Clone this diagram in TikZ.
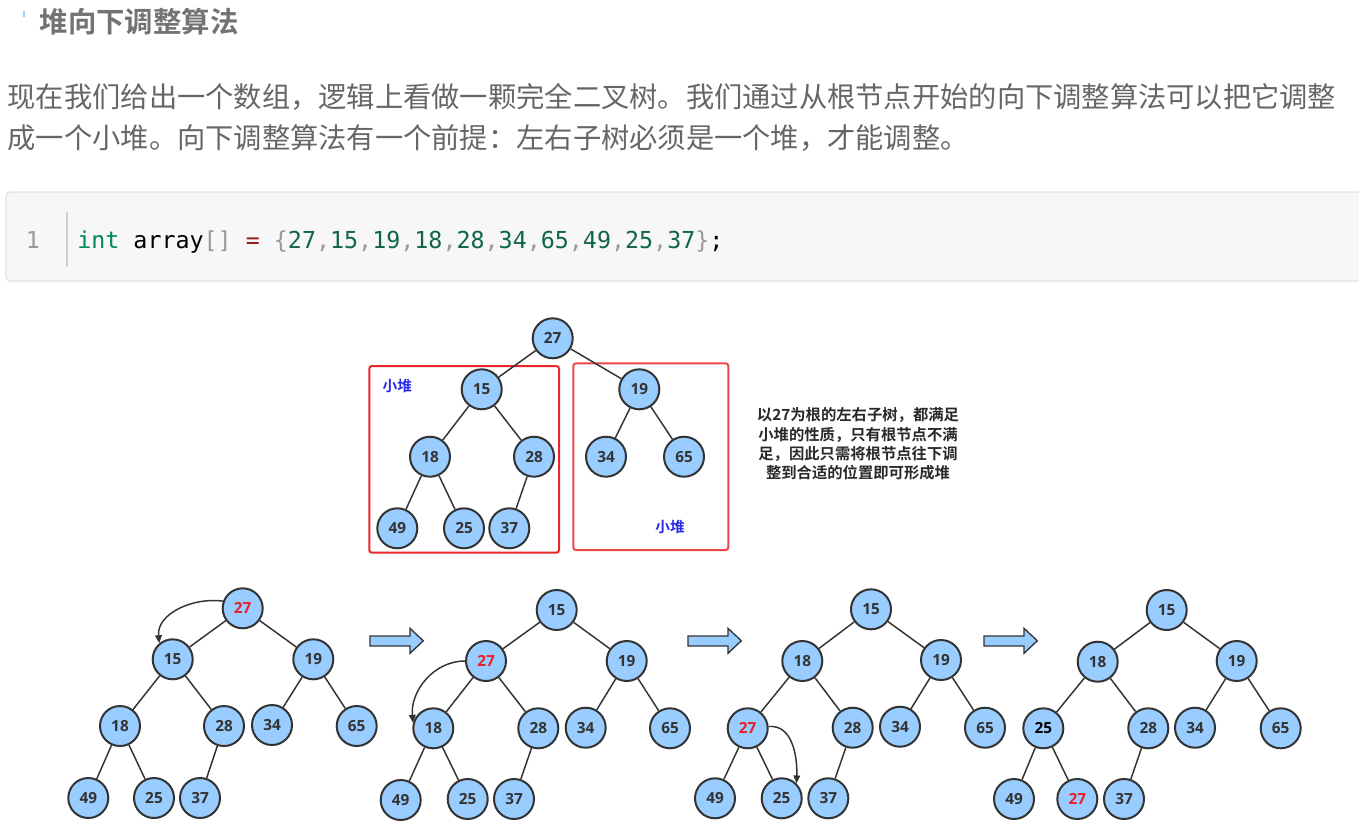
\documentclass[tikz,border=0pt]{standalone}
\usepackage{fontspec}
\setmainfont{Open Sans}
\setmonofont{DejaVu Sans Mono}
\newfontfamily\cjk{Noto Sans CJK SC}[BoldFont={Noto Sans CJK SC Bold}]
\usetikzlibrary{arrows.meta}

\definecolor{heapfill}{HTML}{99CCFF}
\definecolor{heapline}{HTML}{333333}
\definecolor{hotred}{HTML}{E8202A}
\definecolor{boxred}{HTML}{E8262B}
\definecolor{heapblue}{HTML}{2B2BEE}
\definecolor{textgray}{HTML}{666666}
\definecolor{titlegray}{HTML}{737373}
\definecolor{codebg}{HTML}{F7F7F7}
\definecolor{codeframe}{HTML}{E2E2E2}
\definecolor{kwgreen}{HTML}{008855}
\definecolor{numgreen}{HTML}{116644}
\definecolor{punct}{HTML}{999999}
\definecolor{opred}{HTML}{981A1A}

\newcommand{\hot}[1]{\textcolor{hotred}{#1}}
\newcommand{\cn}[1]{\textcolor{numgreen}{#1}}
\newcommand{\cc}{\textcolor{punct}{,}}

\tikzset{
  heapnode/.style={circle, draw=heapline, line width=1.5pt, fill=heapfill,
    minimum size=30pt, inner sep=0pt, text=heapline,
    font=\fontsize{11.5}{12}\selectfont\bfseries},
  treeline/.style={draw=heapline, line width=1.1pt},
  swaparrow/.style={draw=heapline, line width=1.1pt, -{Triangle[length=6pt,width=5pt]}},
  heapbox/.style={draw=boxred, line width=1.5pt, rounded corners=2pt},
  heaplabel/.style={text=heapblue, font=\cjk\bfseries\fontsize{11}{13}\selectfont},
  blockarrow/.style={draw=heapline, line width=1pt, fill=heapfill},
}

\begin{document}
\begin{tikzpicture}[x=0.75pt, y=-0.75pt]
  \clip (0,0) rectangle (1359,825);
  \fill[white] (0,0) rectangle (1359,825);

  % Heading and text.
  \draw[heapfill, line width=0.8pt] (24,11) -- (24,17);
  \node[anchor=west, text=titlegray, font=\cjk\bfseries\fontsize{21.3}{26}\selectfont]
    (title) at (35,22) {堆向下调整算法};
  \node[anchor=west, text=textgray, font=\cjk\fontsize{21.2}{28}\selectfont]
    (para1) at (3,97) {现在我们给出一个数组，逻辑上看做一颗完全二叉树。我们通过从根节点开始的向下调整算法可以把它调整};
  \node[anchor=west, text=textgray, font=\cjk\fontsize{21.2}{28}\selectfont]
    (para2) at (3,138) {成一个小堆。向下调整算法有一个前提：左右子树必须是一个堆，才能调整。};

  % Code block.
  \draw[fill=codebg, draw=codeframe, line width=1pt, rounded corners=3pt] (6,192) rectangle (1375,281);
  \draw[codeframe!80!gray, line width=1.5pt] (67,212) -- (67,267);
  \node[anchor=base, text=punct, font=\ttfamily\fontsize{17.5}{20}\selectfont] (lineno) at (33,248) {1};
  \node[anchor=base west, inner sep=0pt, font=\ttfamily\fontsize{17.5}{20}\selectfont] (code) at (77,248)
    {\textcolor{kwgreen}{int} array\textcolor{punct}{[]} \textcolor{opred}{=} \textcolor{punct}{\{}\cn{27}\cc\cn{15}\cc\cn{19}\cc\cn{18}\cc\cn{28}\cc\cn{34}\cc\cn{65}\cc\cn{49}\cc\cn{25}\cc\cn{37}\textcolor{punct}{\}};};

  % Starting tree with its two sub-heaps.
  \draw[heapbox] (369.3,366) rectangle (559,552.7);
  \draw[heapbox, draw=boxred!85] (573.3,363.3) rectangle (728.3,550);
  \node[heaplabel] (lblL) at (397.3,386) {小堆};
  \node[heaplabel] (lblR) at (670,526.7) {小堆};
  \node[heapnode] (t0r) at (552.7,338.3) {27};
  \node[heapnode] (t0a) at (481.7,389.3) {15};
  \node[heapnode] (t0b) at (639.3,389.3) {19};
  \node[heapnode] (t0c) at (430,456.7) {18};
  \node[heapnode] (t0d) at (534,456.7) {28};
  \node[heapnode] (t0e) at (606,456.7) {34};
  \node[heapnode] (t0f) at (684,456.7) {65};
  \node[heapnode] (t0g) at (397.3,528.3) {49};
  \node[heapnode] (t0h) at (464,528.3) {25};
  \node[heapnode] (t0i) at (509.3,528.3) {37};
  \node[align=center, text=heapline!80!black, font=\cjk\bfseries\fontsize{11.5}{14.6}\selectfont]
    (note) at (858,444) {以27为根的左右子树，都满足\\小堆的性质，只有根节点不满\\足，因此只需将根节点往下调\\整到合适的位置即可形成堆};

  % Step 1.
  \node[heapnode] (t1r) at (242.7,608.3) {\hot{27}};
  \node[heapnode] (t1a) at (172.7,659.3) {15};
  \node[heapnode] (t1b) at (313.3,659.3) {19};
  \node[heapnode] (t1c) at (120,726) {18};
  \node[heapnode] (t1d) at (224,726) {28};
  \node[heapnode] (t1e) at (272,725) {34};
  \node[heapnode] (t1f) at (356.7,726) {65};
  \node[heapnode] (t1g) at (88.3,798) {49};
  \node[heapnode] (t1h) at (154,798) {25};
  \node[heapnode] (t1i) at (200,798) {37};

  % Step 2.
  \node[heapnode] (t2r) at (556.7,610) {15};
  \node[heapnode] (t2a) at (486,661) {\hot{27}};
  \node[heapnode] (t2b) at (626.7,661) {19};
  \node[heapnode] (t2c) at (433.3,728.3) {18};
  \node[heapnode] (t2d) at (538.3,728.3) {28};
  \node[heapnode] (t2e) at (585.7,727.7) {34};
  \node[heapnode] (t2f) at (670,728.3) {65};
  \node[heapnode] (t2g) at (400.7,800) {49};
  \node[heapnode] (t2h) at (467.7,799) {25};
  \node[heapnode] (t2i) at (514,799) {37};

  % Step 3.
  \node[heapnode] (t3r) at (871,609.3) {15};
  \node[heapnode] (t3a) at (802.3,661) {18};
  \node[heapnode] (t3b) at (941,660) {19};
  \node[heapnode] (t3c) at (747.7,728.3) {\hot{27}};
  \node[heapnode] (t3d) at (852.7,727.7) {28};
  \node[heapnode] (t3e) at (900,726.7) {34};
  \node[heapnode] (t3f) at (985,727.7) {65};
  \node[heapnode] (t3g) at (715,798.3) {49};
  \node[heapnode] (t3h) at (781.7,798.3) {25};
  \node[heapnode] (t3i) at (828.3,798.3) {37};

  % Final heap.
  \node[heapnode] (t4r) at (1166.7,610) {15};
  \node[heapnode] (t4a) at (1097.7,661.7) {18};
  \node[heapnode] (t4b) at (1236.7,661) {19};
  \node[heapnode, text=black] (t4c) at (1043.3,728.3) {25};
  \node[heapnode] (t4d) at (1148.3,728.3) {28};
  \node[heapnode] (t4e) at (1195,727.7) {34};
  \node[heapnode] (t4f) at (1280.7,728.3) {65};
  \node[heapnode] (t4g) at (1014,799) {49};
  \node[heapnode] (t4h) at (1077.3,799) {\hot{27}};
  \node[heapnode] (t4i) at (1124,799) {37};

  % Tree edges.
  \foreach \t in {0,...,4}
    \foreach \a/\b in {r/a,r/b,a/c,a/d,b/e,b/f,c/g,c/h,d/i}
      \draw[treeline] (t\t\a) -- (t\t\b);

  % Swaps.
  \draw[swaparrow] (t1r.160) to[out=172,in=95] (t1a.130);
  \draw[swaparrow] (t2a.180) to[out=180,in=95] (t2c.165);
  \draw[swaparrow] (t3c.5) to[out=5,in=88] (t3h.45);

  % Step arrows.
  \foreach \x in {370,688,984}
    \draw[blockarrow] (\x,636) -- (\x+40,636) -- (\x+40,628.3) -- (\x+53.3,640.8)
      -- (\x+40,653.3) -- (\x+40,646) -- (\x,646) -- cycle;
\end{tikzpicture}
\end{document}
